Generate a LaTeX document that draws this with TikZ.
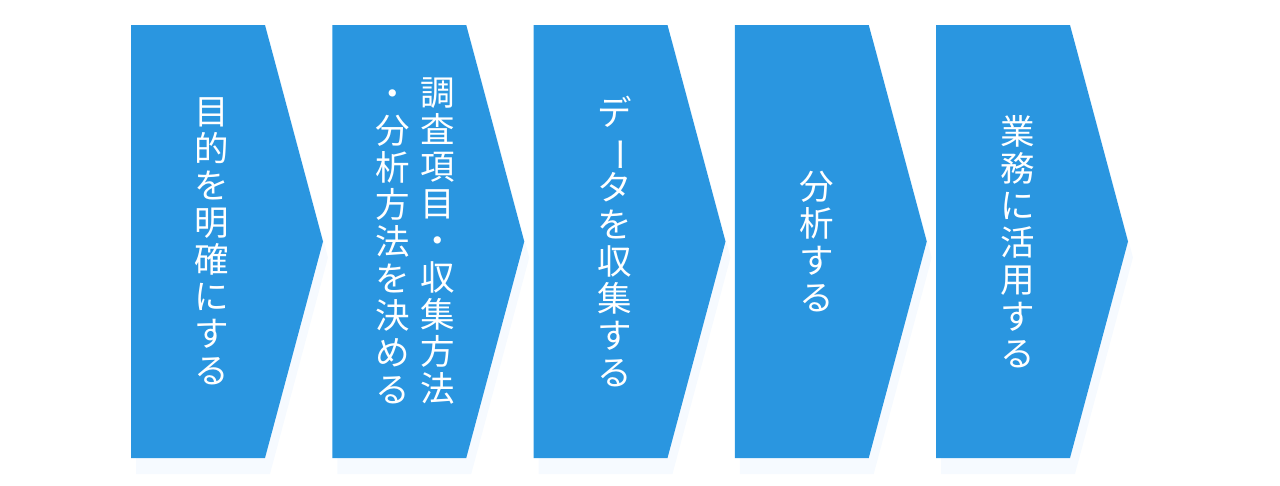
\documentclass[tikz,border=0pt]{standalone}
\usepackage{fontspec}
\newfontfamily\jpfont{Noto Sans CJK JP}
\usetikzlibrary{positioning,shapes.symbols,shadows}
\definecolor{flowblue}{HTML}{2A96E0}
\definecolor{shadowblue}{HTML}{F6FAFF}
\tikzset{
	flowbox/.style={signal, signal to=east, signal pointer angle=150, fill=flowblue,
		minimum width=192pt, minimum height=433pt, inner sep=0pt, outer sep=0pt,
		drop shadow={shadow xshift=5pt, shadow yshift=-16pt, fill=shadowblue, opacity=1}},
	flowtext/.style={text=white, font=\jpfont\fontsize{34.5}{37}\selectfont, align=center, inner sep=0pt}
}
\begin{document}
\begin{tikzpicture}[x=1pt, y=-1pt, node distance=9.25pt]
\useasboundingbox (0,0) rectangle (1280,485);
% boxes
\node [flowbox, anchor=west] (step1) at (131,241.5) {};
\node [flowbox, right=of step1] (step2) {};
\node [flowbox, right=of step2] (step3) {};
\node [flowbox, right=of step3] (step4) {};
\node [flowbox, right=of step4] (step5) {};
% texts
\node [flowtext] (t1) at ([xshift=81pt]step1.west) {目\\的\\を\\明\\確\\に\\す\\る};
\node [flowtext] (t2a) at ([xshift=105pt]step2.west) {調\\査\\項\\目\\・\\収\\集\\方\\法};
\node [flowtext] (t2b) at ([xshift=60pt]step2.west) {\vphantom{調}・\\分\\析\\方\\法\\を\\決\\め\\る};
\node [flowtext] (t3) at ([xshift=81.5pt]step3.west) {デ\\\rotatebox[origin=c]{-90}{ー}\\タ\\を\\収\\集\\す\\る};
\node [flowtext] (t4) at ([xshift=82pt]step4.west) {分\\析\\す\\る};
\node [flowtext] (t5) at ([xshift=82pt]step5.west) {業\\務\\に\\活\\用\\す\\る};
\end{tikzpicture}
\end{document}
